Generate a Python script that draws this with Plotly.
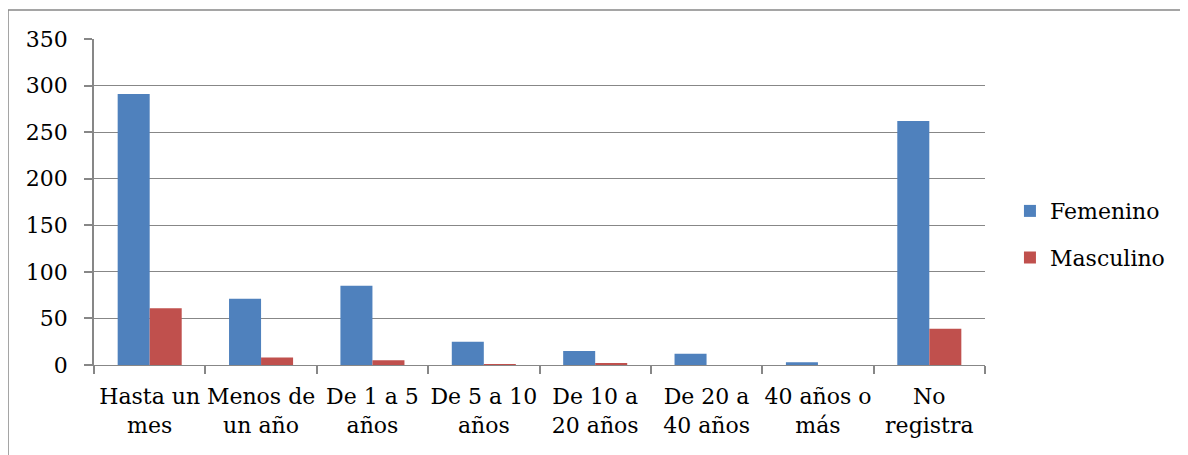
import plotly.graph_objects as go

categories = ["Hasta un<br>mes", "Menos de<br>un año", "De 1 a 5<br>años", "De 5 a 10<br>años",
              "De 10 a<br>20 años", "De 20 a<br>40 años", "40 años o<br>más", "No<br>registra"]
femenino = [291, 71, 85, 25, 15, 12, 3, 262]
masculino = [61, 8, 5, 1, 2, 0, 0, 39]
y_ticks = [0, 50, 100, 150, 200, 250, 300, 350]

FONT = "DejaVu Serif"
GRID = "#878787"
FS = 22

fig = go.Figure()
fig.add_trace(go.Bar(name="Femenino", x=categories, y=femenino, marker=dict(color="#4F81BD", line=dict(width=0)),
                     legendgroup="f"))
fig.add_trace(go.Bar(name="Masculino", x=categories, y=masculino, marker=dict(color="#C0504D", line=dict(width=0)),
                     legendgroup="m"))

W, H = 1180, 447
L, T = 86, 31
PW, PH = 891, 326

fig.update_layout(
    width=W, height=H,
    margin=dict(l=L, r=W - L - PW, t=T, b=H - T - PH),
    paper_bgcolor="white", plot_bgcolor="white",
    barmode="group", bargap=0.425, bargroupgap=0,
    font=dict(family=FONT, size=FS, color="black"),
    legend=dict(x=1.028, y=0.40, xanchor="left", yanchor="middle",
                font=dict(family=FONT, size=FS), tracegroupgap=15,
                bgcolor="rgba(0,0,0,0)"),
    xaxis=dict(type="category", showgrid=False, showline=True, linecolor=GRID, linewidth=1,
               ticks="outside", tickson="boundaries", ticklen=8, tickcolor=GRID, tickwidth=1.5,
               tickangle=0, tickfont=dict(family=FONT, size=FS), ticklabelstandoff=12),
    yaxis=dict(range=[0, 350], tickvals=y_ticks, showgrid=True, gridcolor=GRID, gridwidth=1,
               showline=True, linecolor=GRID, linewidth=1.5, ticks="outside", ticklen=8,
               tickcolor=GRID, tickwidth=1.5, zeroline=False, tickfont=dict(family=FONT, size=FS),
               ticklabelstandoff=12),
    shapes=[dict(type="rect", xref="paper", yref="paper",
                 x0=-L / PW, x1=(1179 - L) / PW, y0=-0.4, y1=1 + 29 / PH,
                 line=dict(color="#888888", width=1.5), fillcolor="rgba(0,0,0,0)", layer="below")],
)

fig.write_html("out.html")
